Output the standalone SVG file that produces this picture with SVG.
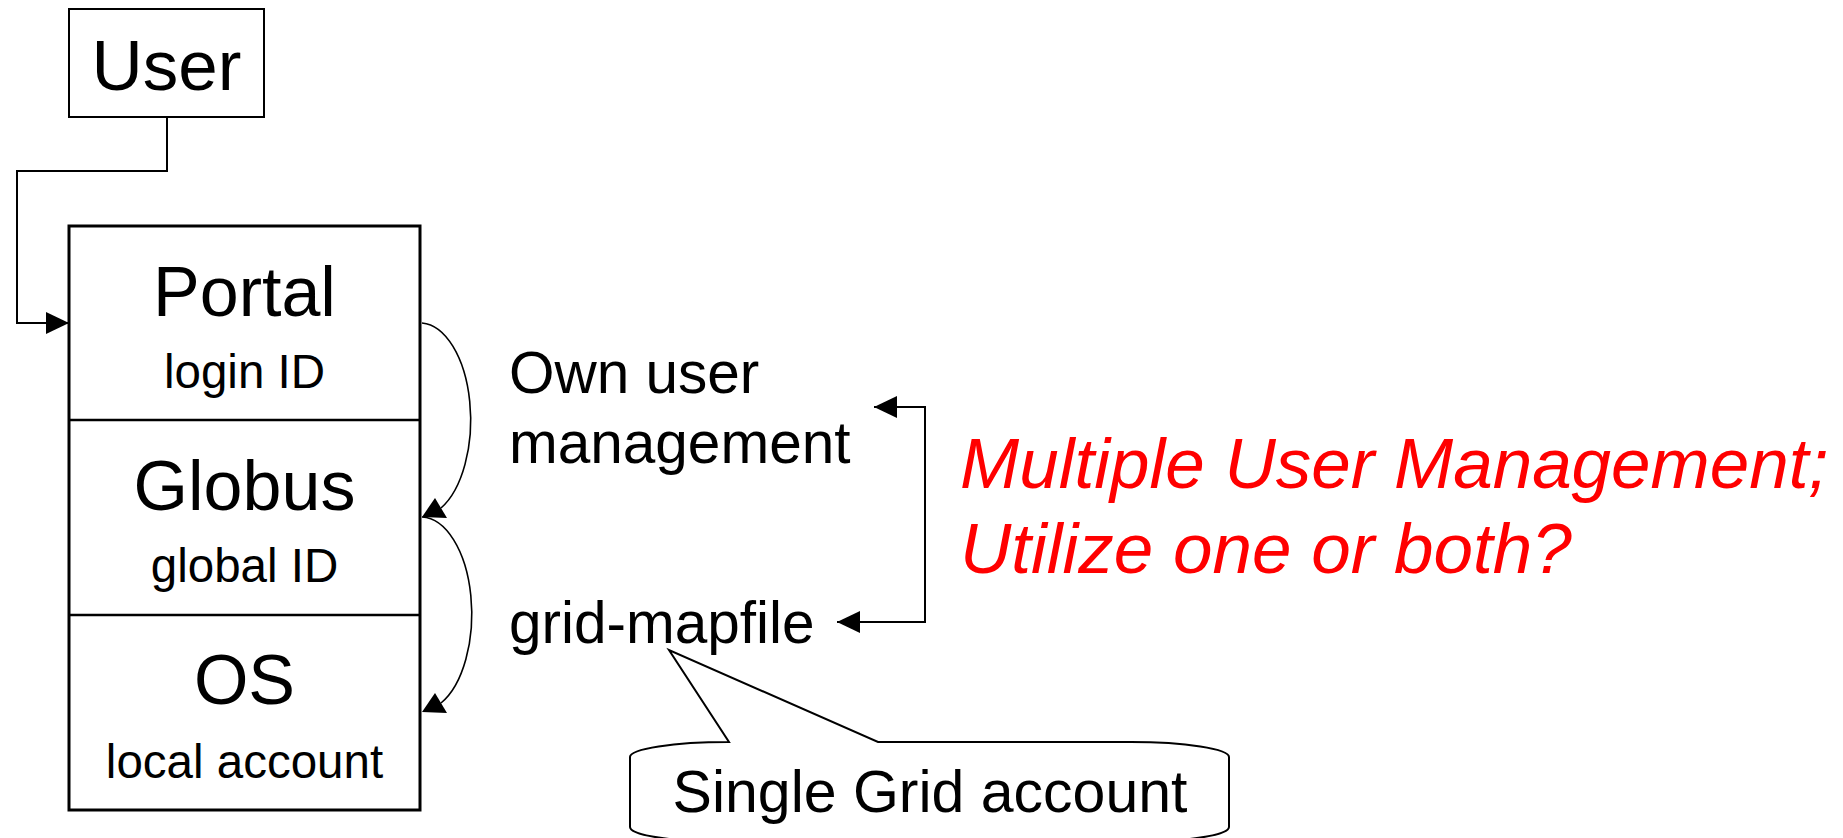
<svg xmlns="http://www.w3.org/2000/svg" width="1843" height="838" viewBox="0 0 1843 838">
<style>
.t{font-family:"Liberation Sans",Arial,sans-serif;fill:#000}
.big{font-size:70px;text-anchor:middle}
.sub{font-size:47.5px;text-anchor:middle}
.mid{font-size:58.5px}
.red{font-family:"Liberation Sans",Arial,sans-serif;font-size:71px;font-style:italic;fill:#FF0000}
.ln{fill:none;stroke:#000;stroke-width:2}
.thin{fill:none;stroke:#000;stroke-width:1.6}
.head{fill:#000;stroke:none}
</style>
<defs>
<marker id="arr" markerUnits="userSpaceOnUse" markerWidth="23" markerHeight="22" refX="23" refY="11" orient="auto-start-reverse">
<path d="M0,0 L23,11 L0,22 Z" fill="#000"/>
</marker>
</defs>
<rect x="0" y="0" width="1843" height="838" fill="#fff"/>

<g id="user">
<rect x="69" y="9" width="195" height="108" fill="#fff" stroke="#000" stroke-width="2"/>
<text class="t" x="166.5" y="90" font-size="71" text-anchor="middle">User</text>
</g>

<g id="stack">
<rect x="69" y="226" width="351" height="584" fill="#fff" stroke="#000" stroke-width="3"/>
<line x1="69" y1="420" x2="420" y2="420" stroke="#000" stroke-width="2.5"/>
<line x1="69" y1="615" x2="420" y2="615" stroke="#000" stroke-width="2.5"/>
</g>
<g id="portal">
<text class="t big" x="244.5" y="316">Portal</text>
<text class="t sub" x="244.5" y="388">login ID</text>
</g>
<g id="globus">
<text class="t big" x="244.5" y="510">Globus</text>
<text class="t sub" x="244.5" y="582">global ID</text>
</g>
<g id="os">
<text class="t big" x="244.5" y="704">OS</text>
<text class="t sub" x="244.5" y="778">local account</text>
</g>

<g id="own-user-management">
<text class="t mid" x="509" y="393">Own user</text>
<text class="t mid" x="509" y="463">management</text>
</g>
<g id="grid-mapfile">
<text class="t mid" x="509" y="643">grid-mapfile</text>
</g>

<g id="callout">
<path d="M630,757 A98,15 0 0 1 728,742 L729,742 L669,650 L878,742 L1131,742 A98,15 0 0 1 1229,757 L1229,827 A98,15 0 0 1 1131,842 L728,842 A98,15 0 0 1 630,827 Z" fill="#fff" stroke="#000" stroke-width="2"/>
<text class="t" x="930" y="812" font-size="59" text-anchor="middle">Single Grid account</text>
</g>

<g id="question">
<text class="red" x="960" y="488">Multiple User Management;</text>
<text class="red" x="960" y="573">Utilize one or both?</text>
</g>

<g id="connectors">
<path class="ln" d="M167,117 L167,171 L17,171 L17,323 L69,323" marker-end="url(#arr)"/>
<path class="thin" d="M422,323 A51,97 0 0 1 441,508"/>
<polygon class="head" points="422,517 435,498 447,518"/>
<path class="thin" d="M422,517 A51,97 0 0 1 441,703"/>
<polygon class="head" points="422,712 435,693 447,713"/>
<path class="ln" d="M874,407 L925,407 L925,622 L837,622" marker-start="url(#arr)" marker-end="url(#arr)"/>
</g>
</svg>
